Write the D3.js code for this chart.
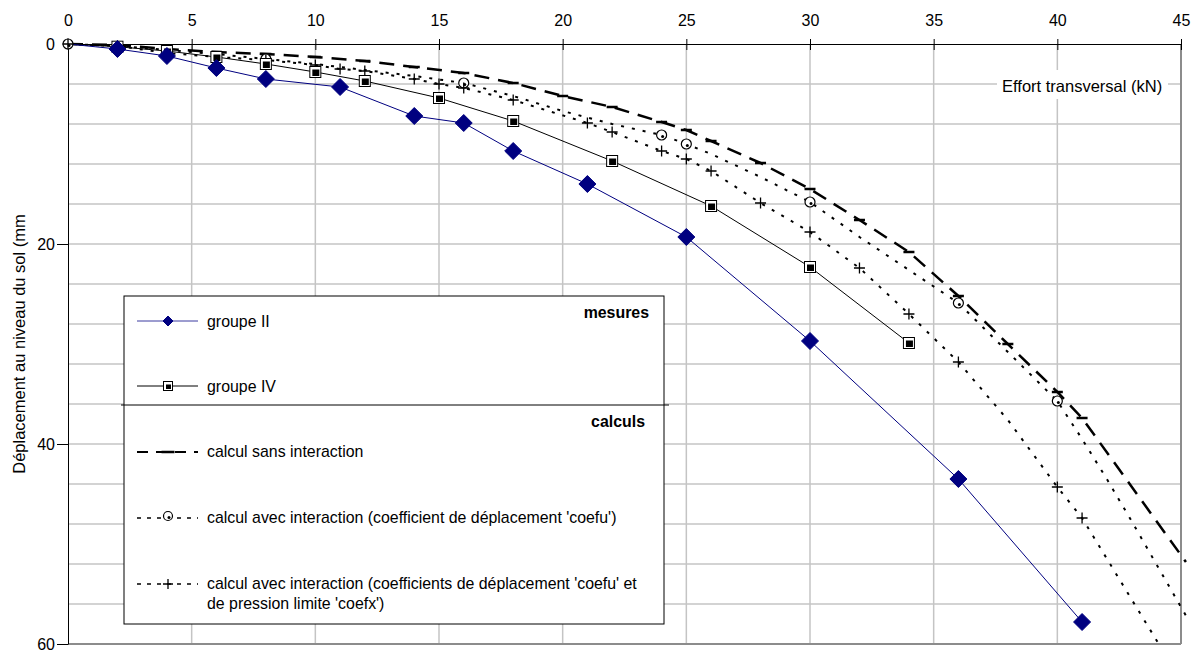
<!DOCTYPE html>
<html>
<head>
<meta charset="utf-8">
<script src="https://cdn.jsdelivr.net/npm/d3@7"></script>
<style>
  html, body { margin: 0; padding: 0; background: #fff; }
  svg { display: block; font-family: "Liberation Sans", Arial, sans-serif; }
</style>
</head>
<body>
<svg id="chart" width="1199" height="650"></svg>
<script>
// ---------- data ----------
const xTicks = [0, 5, 10, 15, 20, 25, 30, 35, 40, 45];
const yTicks = [0, 20, 40, 60];
const yGrid = [4, 8, 12, 16, 20, 24, 28, 32, 36, 40, 44, 48, 52, 56];

// mesures : groupe II
const g2X = [0, 2, 4, 6, 8, 11, 14, 16, 18, 21, 25, 30, 36, 41];
const g2Y = [0, 0.5, 1.2, 2.4, 3.5, 4.3, 7.2, 7.9, 10.7, 14.0, 19.3, 29.7, 43.5, 57.8];

// mesures : groupe IV
const g4X = [0, 2, 4, 6, 8, 10, 12, 15, 18, 22, 26, 30, 34];
const g4Y = [0, 0.27, 0.7, 1.3, 2.0, 2.8, 3.7, 5.4, 7.7, 11.7, 16.2, 22.3, 29.9];

// calcul sans interaction
const sansX = [0, 2, 4, 6, 8, 10, 12, 14, 16, 18, 20, 22, 24, 25, 26, 28, 30, 32, 34, 36, 38, 40, 41, 45.2];
const sansY = [0, 0.1, 0.5, 0.8, 1.0, 1.3, 1.7, 2.3, 2.9, 3.9, 5.2, 6.3, 7.8, 8.6, 9.7, 11.9, 14.5, 17.6, 20.8, 25.2, 30.0, 34.8, 37.4, 51.8];
const sansMarkX = [2, 4, 6, 8, 10, 12, 14, 16, 18, 20, 22, 24, 25, 26, 28, 30, 32, 34, 36, 38, 40, 41];

// calcul avec interaction (coefu)
const coefuX = [0, 2, 4, 6, 8, 10, 12, 14, 16, 18, 20, 22, 24, 25, 26, 28, 30, 32, 34, 36, 38, 40, 41, 42, 43, 44, 45.3];
const coefuY = [0, 0.2, 0.6, 1.0, 1.5, 2.0, 2.6, 3.2, 3.9, 5.2, 6.7, 8.0, 9.1, 10.0, 11.0, 13.3, 15.8, 19.3, 22.6, 25.9, 30.8, 35.7, 39.5, 43.5, 47.7, 52.0, 57.6];
const coefuMarkX = [0, 8, 16, 24, 25, 30, 36, 40];

// calcul avec interaction (coefu et coefx)
const coefxX = [0, 2, 4, 6, 8, 10, 11, 12, 14, 15, 16, 18, 21, 22, 24, 25, 26, 28, 30, 32, 34, 36, 38, 40, 41, 44.2];
const coefxY = [0, 0.2, 0.9, 1.3, 1.6, 2.1, 2.5, 2.7, 3.5, 4.0, 4.4, 5.6, 7.9, 8.8, 10.7, 11.5, 12.7, 15.9, 18.8, 22.4, 27.0, 31.8, 37.6, 44.3, 47.4, 60.4];
const coefxMarkX = [0, 2, 4, 6, 8, 10, 11, 12, 14, 15, 16, 18, 21, 22, 24, 25, 26, 28, 30, 32, 34, 36, 40, 41];

// texts
const xTitle = "Effort transversal (kN)";
const yTitle = "Déplacement au niveau du sol (mm";
const legendMesures = "mesures";
const legendCalculs = "calculs";
const nameG2 = "groupe II";
const nameG4 = "groupe IV";
const nameSans = "calcul sans interaction";
const nameCoefu = "calcul avec interaction (coefficient de déplacement 'coefu')";
const nameCoefx1 = "calcul avec interaction (coefficients de déplacement 'coefu' et";
const nameCoefx2 = "de pression limite 'coefx')";

// ---------- chart ----------
const svg = d3.select("#chart");
const FONT = "16px";
const x = d3.scaleLinear().domain([0, 45]).range([68, 1181]);
const y = d3.scaleLinear().domain([0, 60]).range([44, 644]);

const zip = (xs, ys) => xs.map((v, i) => [v, ys[i]]);
const pick = (xs, ys, mx) => mx.map(v => [v, ys[xs.indexOf(v)]]);

svg.append("rect").attr("width", 1199).attr("height", 650).attr("fill", "#fff");

// grid
const grid = svg.append("g");
grid.selectAll("line.v").data(xTicks.filter(d => d > 0 && d < 45)).join("line")
  .attr("x1", d => x(d)).attr("x2", d => x(d)).attr("y1", y(0)).attr("y2", y(60))
  .attr("stroke", "#c4c4c4").attr("stroke-width", 1.5);
grid.selectAll("line.h").data(yGrid).join("line")
  .attr("x1", x(0)).attr("x2", x(45)).attr("y1", d => y(d)).attr("y2", d => y(d))
  .attr("stroke", "#c4c4c4").attr("stroke-width", 1.5);
// plot border right & bottom
grid.append("line").attr("x1", x(45)).attr("x2", x(45)).attr("y1", y(0)).attr("y2", y(60))
  .attr("stroke", "#8c8c8c").attr("stroke-width", 2);
grid.append("line").attr("x1", x(0)).attr("x2", x(45)).attr("y1", y(60)).attr("y2", y(60))
  .attr("stroke", "#8c8c8c").attr("stroke-width", 2);

// axes
const xAxis = svg.append("g").attr("transform", `translate(0,${y(0)})`)
  .call(d3.axisTop(x).tickValues(xTicks).tickSizeInner(5).tickSizeOuter(0).tickPadding(13));
xAxis.selectAll(".tick line").attr("y2", -5).attr("y1", 6);
xAxis.selectAll(".tick").filter(d => d === 0).select("line").remove();
const yAxis = svg.append("g").attr("transform", `translate(${x(0)},0)`)
  .call(d3.axisLeft(y).tickValues(yTicks).tickSizeInner(11).tickSizeOuter(0).tickPadding(2));
[xAxis, yAxis].forEach(a => {
  a.selectAll("text").attr("font-size", FONT).attr("font-family", "Liberation Sans, Arial, sans-serif").attr("fill", "#000");
  a.selectAll("line").attr("stroke", "#000");
  a.select(".domain").attr("stroke", "#000");
});
yAxis.selectAll(".tick").filter(d => d === 0).select("line").remove();

// axis titles
svg.append("rect").attr("x", 997).attr("y", 70).attr("width", 171).attr("height", 29).attr("fill", "#fff");
svg.append("text").attr("x", 1002).attr("y", 92).attr("font-size", "16.5px").text(xTitle);
svg.append("text").attr("transform", "translate(25,344) rotate(-90)")
  .attr("text-anchor", "middle").attr("font-size", "16.5px").text(yTitle);

// series
const line = d3.line().x(d => x(d[0])).y(d => y(d[1]));
const series = svg.append("g");

series.append("path").datum(zip(sansX, sansY)).attr("d", line)
  .attr("fill", "none").attr("stroke", "#000").attr("stroke-width", 2.5).attr("stroke-dasharray", "15,9");
series.append("path").datum(zip(coefuX, coefuY)).attr("d", line)
  .attr("fill", "none").attr("stroke", "#000").attr("stroke-width", 2).attr("stroke-dasharray", "3,8");
series.append("path").datum(zip(coefxX, coefxY)).attr("d", line)
  .attr("fill", "none").attr("stroke", "#000").attr("stroke-width", 2).attr("stroke-dasharray", "3,8").attr("stroke-dashoffset", 5);
series.append("path").datum(zip(g4X, g4Y)).attr("d", line)
  .attr("fill", "none").attr("stroke", "#000").attr("stroke-width", 1);
series.append("path").datum(zip(g2X, g2Y)).attr("d", line)
  .attr("fill", "none").attr("stroke", "#000080").attr("stroke-width", 1);

// markers
function dashMark(g, px, py, w) {
  g.append("line").attr("x1", px - w / 2).attr("x2", px + w / 2).attr("y1", py).attr("y2", py)
    .attr("stroke", "#000").attr("stroke-width", 2.5);
}
function circleMark(g, px, py, r) {
  g.append("circle").attr("cx", px).attr("cy", py).attr("r", r).attr("fill", "#fff").attr("stroke", "#000").attr("stroke-width", 1.2);
  g.append("circle").attr("cx", px + 1).attr("cy", py + 1.5).attr("r", 1.5).attr("fill", "#000");
}
function plusMark(g, px, py, s) {
  g.append("path").attr("d", `M${px - s},${py}H${px + s}M${px},${py - s}V${py + s}`)
    .attr("stroke", "#000").attr("stroke-width", 1.3).attr("fill", "none");
}
function squareMark(g, px, py, s) {
  g.append("rect").attr("x", px - s / 2).attr("y", py - s / 2).attr("width", s).attr("height", s)
    .attr("fill", "#fff").attr("stroke", "#000").attr("stroke-width", 1);
  g.append("rect").attr("x", px - s / 2 + 2.5).attr("y", py - s / 2 + 3).attr("width", s - 4).attr("height", s - 4.5)
    .attr("fill", "#000");
}
function diamondMark(g, px, py, s) {
  g.append("path").attr("d", `M${px},${py - s}L${px + s},${py}L${px},${py + s}L${px - s},${py}Z`)
    .attr("fill", "#000080").attr("stroke", "#000080").attr("stroke-width", 1);
}

const marks = svg.append("g");
pick(sansX, sansY, sansMarkX).forEach(d => dashMark(marks, x(d[0]), y(d[1]), 11));
pick(coefuX, coefuY, coefuMarkX).forEach(d => circleMark(marks, x(d[0]), y(d[1]), 5));
pick(coefxX, coefxY, coefxMarkX).forEach(d => plusMark(marks, x(d[0]), y(d[1]), 5.5));
zip(g4X, g4Y).slice(1).forEach(d => squareMark(marks, x(d[0]), y(d[1]), 11));
zip(g2X, g2Y).slice(1).forEach(d => diamondMark(marks, x(d[0]), y(d[1]), 8.5));

// legend
const lg = svg.append("g").attr("font-size", "15.9px");
lg.append("rect").attr("x", 124).attr("y", 296).attr("width", 540).attr("height", 328)
  .attr("fill", "#fff").attr("stroke", "#000").attr("stroke-width", 1);
lg.append("line").attr("x1", 121).attr("x2", 669).attr("y1", 405).attr("y2", 405)
  .attr("stroke", "#000").attr("stroke-width", 1);
lg.append("text").attr("x", 649).attr("y", 318).attr("text-anchor", "end").attr("font-weight", "bold").text(legendMesures);
lg.append("text").attr("x", 645).attr("y", 427).attr("text-anchor", "end").attr("font-weight", "bold").text(legendCalculs);

const LX1 = 137, LX2 = 198, LXM = 168, TX = 207;
// groupe II
lg.append("line").attr("x1", LX1).attr("x2", LX2).attr("y1", 321).attr("y2", 321).attr("stroke", "#3a3aa0").attr("stroke-width", 1);
diamondMark(lg, LXM, 321, 5);
lg.append("text").attr("x", TX).attr("y", 327).text(nameG2);
// groupe IV
lg.append("line").attr("x1", LX1).attr("x2", LX2).attr("y1", 386).attr("y2", 386).attr("stroke", "#000").attr("stroke-width", 1);
squareMark(lg, LXM, 386, 9);
lg.append("text").attr("x", TX).attr("y", 392).text(nameG4);
// sans interaction
lg.append("line").attr("x1", LX1).attr("x2", LX2).attr("y1", 452).attr("y2", 452)
  .attr("stroke", "#000").attr("stroke-width", 2).attr("stroke-dasharray", "11,8");
dashMark(lg, LXM, 452, 13);
lg.append("text").attr("x", TX).attr("y", 457).text(nameSans);
// coefu
lg.append("line").attr("x1", LX1).attr("x2", LX2).attr("y1", 518).attr("y2", 518)
  .attr("stroke", "#000").attr("stroke-width", 1.5).attr("stroke-dasharray", "4,6");
circleMark(lg, LXM, 516, 4.5);
lg.append("text").attr("x", TX).attr("y", 523).text(nameCoefu);
// coefx
lg.append("line").attr("x1", LX1).attr("x2", LX2).attr("y1", 584).attr("y2", 584)
  .attr("stroke", "#000").attr("stroke-width", 1.5).attr("stroke-dasharray", "4,6");
plusMark(lg, LXM, 584, 5);
lg.append("text").attr("x", TX).attr("y", 589).text(nameCoefx1);
lg.append("text").attr("x", TX).attr("y", 609).text(nameCoefx2);
</script>
</body>
</html>
